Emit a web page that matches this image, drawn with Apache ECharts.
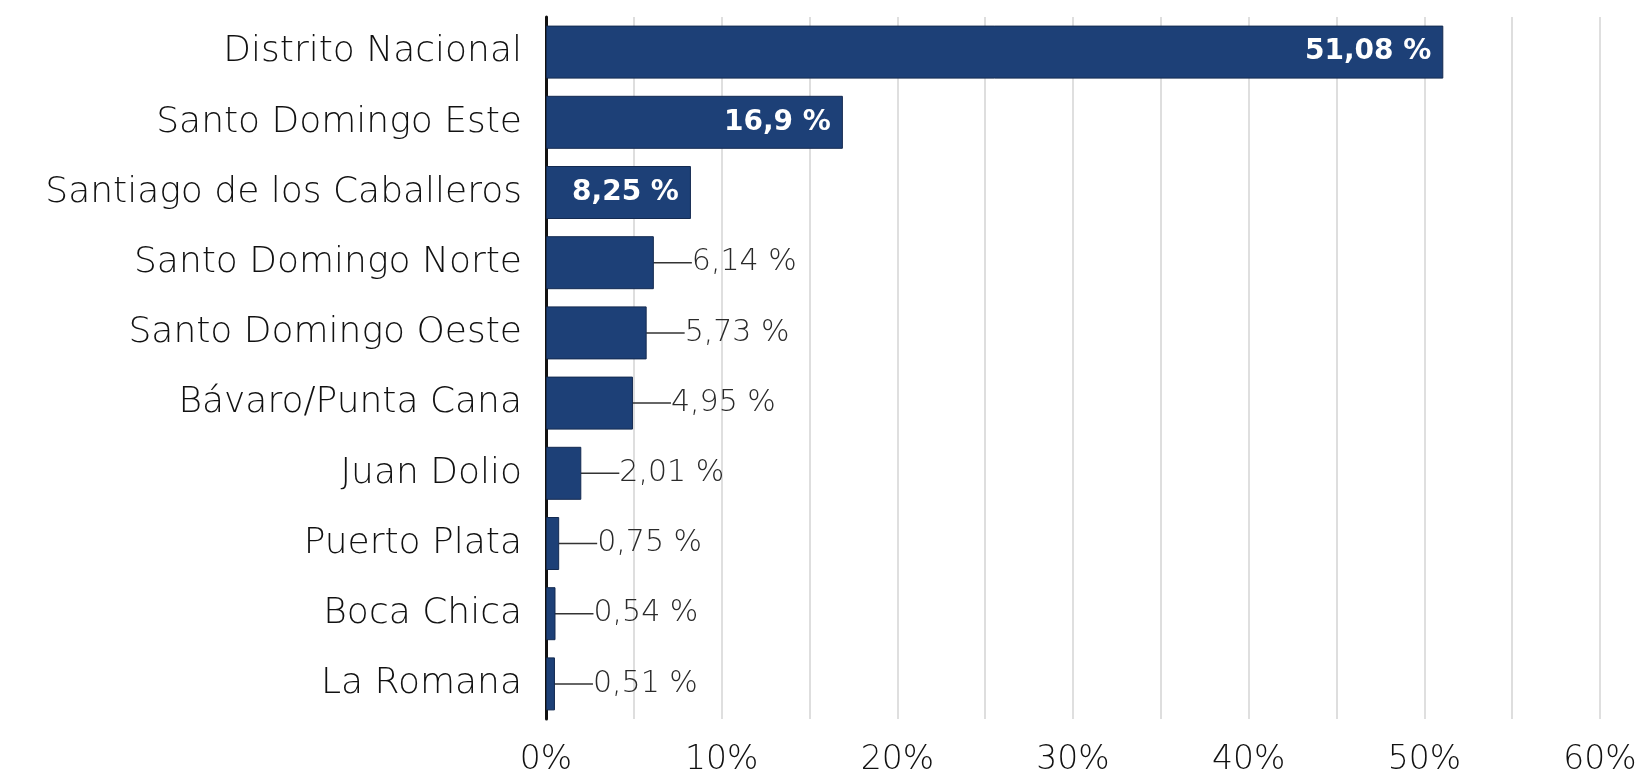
<!DOCTYPE html>
<html>
<head>
<meta charset="utf-8">
<script src="https://cdn.jsdelivr.net/npm/echarts@6/dist/echarts.min.js"></script>
<style>
html,body{margin:0;padding:0;background:#fff;}
#chart{width:1648px;height:779px;}
</style>
</head>
<body>
<div id="chart"></div>
<script>
const categories = ['Distrito Nacional','Santo Domingo Este','Santiago de los Caballeros','Santo Domingo Norte','Santo Domingo Oeste','Bávaro/Punta Cana','Juan Dolio','Puerto Plata','Boca Chica','La Romana'];
const values = [51.08, 16.9, 8.25, 6.14, 5.73, 4.95, 2.01, 0.75, 0.54, 0.51];
const insideCount = 3;
const xTicks = [0, 10, 20, 30, 40, 50, 60];

const fmt = v => String(v).replace('.', ',') + ' %';
const FONT = 'DejaVu Sans';

const data = values.map((v, i) => {
  if (i < insideCount) {
    return {
      value: v,
      label: {show: true, position: 'insideRight', distance: 12, color: '#fff', fontWeight: 'bold', fontSize: 28, fontFamily: FONT, formatter: p => fmt(p.value)},
      labelLine: {show: false}
    };
  }
  return {
    value: v,
    label: {show: true, position: 'right', distance: 0, color: '#2a2a2a', fontWeight: 200, fontSize: 30, fontFamily: FONT, formatter: p => fmt(p.value)},
    labelLine: {show: true, lineStyle: {color: '#333', width: 1.5}}
  };
});

const chart = echarts.init(document.getElementById('chart'), null, {renderer: 'canvas'});
chart.setOption({
  animation: false,
  backgroundColor: '#fff',
  grid: {left: 546, right: 48, top: 17, bottom: 60, containLabel: false},
  xAxis: {
    type: 'value', min: xTicks[0], max: xTicks[xTicks.length - 1], interval: 10,
    axisLine: {show: false}, axisTick: {show: false},
    axisLabel: {formatter: v => v + '%', fontSize: 33, color: '#111', fontWeight: 200, fontFamily: FONT, margin: 25},
    splitLine: {show: true, lineStyle: {color: '#d4d4d4', width: 1.5}},
    minorTick: {show: false, splitNumber: 2},
    minorSplitLine: {show: true, lineStyle: {color: '#d4d4d4', width: 1.5}}
  },
  yAxis: {
    type: 'category', inverse: true, data: categories,
    axisLine: {show: true, lineStyle: {color: '#111', width: 3}},
    axisTick: {show: false},
    axisLabel: {fontSize: 36, color: '#111', fontWeight: 200, fontFamily: FONT, margin: 24}
  },
  series: [{
    type: 'bar', data: data, barWidth: 53,
    itemStyle: {color: '#1d4077', borderColor: '#142a50', borderWidth: 1},
    labelLayout: p => (p.dataIndex >= insideCount ? {dx: 38} : {}),
    z: 3
  }]
});
</script>
</body>
</html>
